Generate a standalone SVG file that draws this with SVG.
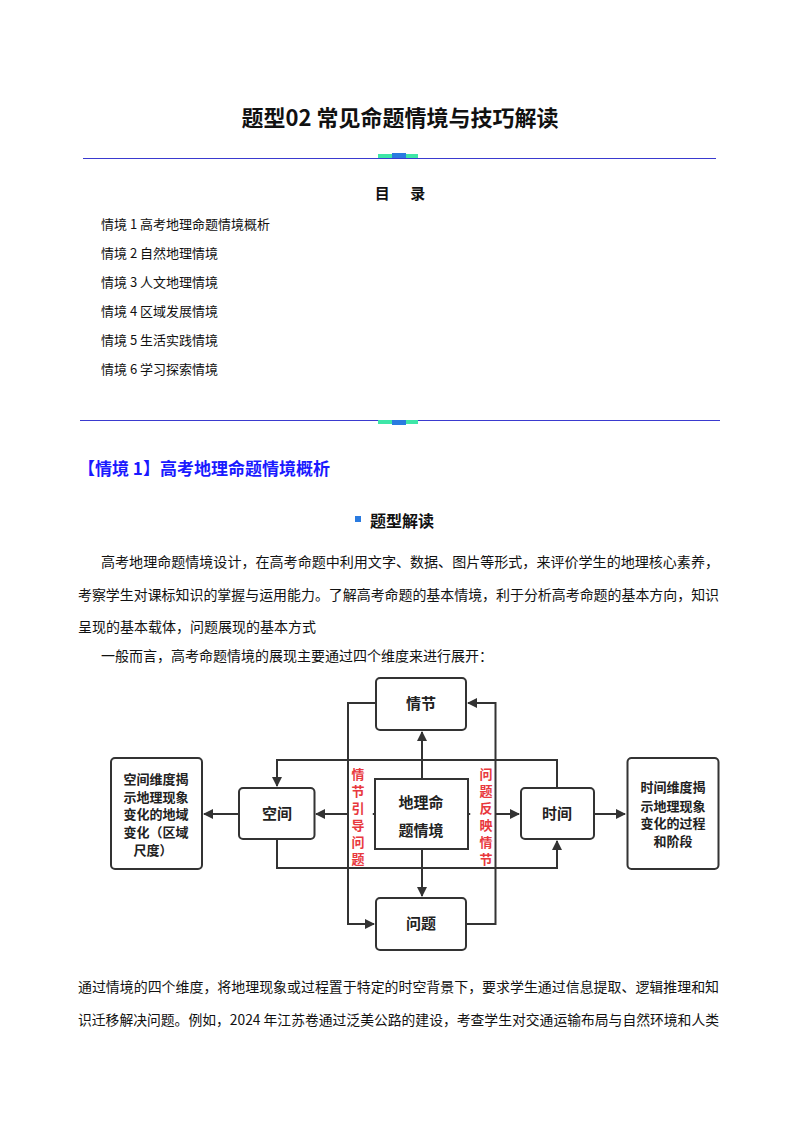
<svg xmlns="http://www.w3.org/2000/svg" width="800" height="1132" viewBox="0 0 800 1132">
<style>
text{font-family:"Noto Sans CJK SC","Liberation Sans",sans-serif;fill:#111}
.b{font-weight:bold}
.body{font-size:14px}
.toc{font-size:13px}
.node rect{fill:#fff;stroke:#333;stroke-width:2}
.nt{font-size:15px;font-weight:bold;text-anchor:middle;fill:#222}
.sm{font-size:13px}
.red text{font-size:13px;font-weight:bold;fill:#e8383d;text-anchor:middle}
.c{fill:none;stroke:#333;stroke-width:2}
</style>
<defs>
<marker id="a" viewBox="0 0 10 10" refX="9" refY="5" markerWidth="5" markerHeight="5" orient="auto"><path d="M0,0L10,5L0,10z" fill="#333"/></marker>
</defs>
<rect width="800" height="1132" fill="#fff"/>
<text x="400" y="126" class="b" font-size="22" text-anchor="middle">题型02  常见命题情境与技巧解读</text>
<line x1="83" y1="158.5" x2="716" y2="158.5" stroke="#3a3acf" stroke-width="1.2"/>
<rect x="378" y="154" width="40" height="4" fill="#3ee6a8"/><rect x="392" y="153" width="14" height="5" fill="#2a7be0"/>
<text x="400" y="199" class="b" font-size="15" text-anchor="middle" xml:space="preserve">目      录</text>
<g class="toc">
<text x="101" y="229">情境 1 高考地理命题情境概析</text>
<text x="101" y="258">情境 2 自然地理情境</text>
<text x="101" y="287">情境 3 人文地理情境</text>
<text x="101" y="316">情境 4 区域发展情境</text>
<text x="101" y="345">情境 5 生活实践情境</text>
<text x="101" y="374">情境 6 学习探索情境</text>
</g>
<line x1="80" y1="420.5" x2="720" y2="420.5" stroke="#3a3acf" stroke-width="1.2"/>
<rect x="378" y="420" width="40" height="4" fill="#3ee6a8"/><rect x="392" y="420" width="14" height="5" fill="#2a7be0"/>
<text x="78" y="475" class="b" font-size="17" style="fill:#1a1aff">【情境 1】高考地理命题情境概析</text>
<rect x="355" y="516" width="6" height="6" fill="#2a7be0"/>
<text x="370" y="527" class="b" font-size="16">题型解读</text>
<g class="body">
<text x="101" y="567" textLength="618" lengthAdjust="spacingAndGlyphs">高考地理命题情境设计，在高考命题中利用文字、数据、图片等形式，来评价学生的地理核心素养，</text>
<text x="78" y="600" textLength="641" lengthAdjust="spacingAndGlyphs">考察学生对课标知识的掌握与运用能力。了解高考命题的基本情境，利于分析高考命题的基本方向，知识</text>
<text x="78" y="632">呈现的基本载体，问题展现的基本方式</text>
<text x="101" y="661">一般而言，高考命题情境的展现主要通过四个维度来进行展开：</text>
<text x="78" y="992" textLength="641" lengthAdjust="spacingAndGlyphs">通过情境的四个维度，将地理现象或过程置于特定的时空背景下，要求学生通过信息提取、逻辑推理和知</text>
<text x="78" y="1025" textLength="641" lengthAdjust="spacingAndGlyphs">识迁移解决问题。例如，2024 年江苏卷通过泛美公路的建设，考查学生对交通运输布局与自然环境和人类</text>
</g>
<g id="connectors">
<path class="c" d="M376,703H348V924H374" marker-end="url(#a)"/>
<path class="c" d="M466,924H495.5V703H468" marker-end="url(#a)"/>
<path class="c" d="M557,788V760H277V786" marker-end="url(#a)"/>
<path class="c" d="M277,839V868H557V841" marker-end="url(#a)"/>
<path class="c" d="M422,779V732" marker-end="url(#a)"/>
<path class="c" d="M422,849V896" marker-end="url(#a)"/>
<path class="c" d="M348,814H316" marker-end="url(#a)"/>
<path class="c" d="M384,814H373" marker-end="url(#a)"/>
<path class="c" d="M459,814H470" marker-end="url(#a)"/>
<path class="c" d="M495.5,814H519" marker-end="url(#a)"/>
<path class="c" d="M239,814H204" marker-end="url(#a)"/>
<path class="c" d="M594,814H625" marker-end="url(#a)"/>
</g>
<g id="n-qingjie" class="node"><rect x="376" y="678" width="90" height="52" rx="4"/><text class="nt" x="421" y="709">情节</text></g>
<g id="n-wenti" class="node"><rect x="376" y="898" width="90" height="52" rx="4"/><text class="nt" x="421" y="929">问题</text></g>
<g id="n-kongjian" class="node"><rect x="239" y="788" width="75.5" height="51" rx="4"/><text class="nt" x="277" y="819">空间</text></g>
<g id="n-shijian" class="node"><rect x="521" y="788" width="73" height="51" rx="4"/><text class="nt" x="557" y="819">时间</text></g>
<g id="n-center" class="node"><rect x="375" y="779" width="93" height="70" rx="0"/><text class="nt" x="421" y="808" font-size="19">地理命</text><text class="nt" x="421" y="836" font-size="19">题情境</text></g>
<g id="n-left" class="node"><rect x="111" y="758" width="91" height="111" rx="4"/>
<text class="nt sm" x="156" y="784">空间维度揭</text><text class="nt sm" x="156" y="802">示地理现象</text><text class="nt sm" x="156" y="819">变化的地域</text><text class="nt sm" x="156" y="837">变化（区域</text><text class="nt sm" x="153" y="855">尺度）</text></g>
<g id="n-right" class="node"><rect x="627.5" y="758" width="91" height="111" rx="4"/>
<text class="nt sm" x="673" y="792">时间维度揭</text><text class="nt sm" x="673" y="811">示地理现象</text><text class="nt sm" x="673" y="828">变化的过程</text><text class="nt sm" x="673" y="846">和阶段</text></g>
<g id="lbl-left" class="red"><text x="358" y="779">情</text><text x="358" y="796">节</text><text x="358" y="813">引</text><text x="358" y="830">导</text><text x="358" y="847">问</text><text x="358" y="864">题</text></g>
<g id="lbl-right" class="red"><text x="486" y="779">问</text><text x="486" y="796">题</text><text x="486" y="813">反</text><text x="486" y="830">映</text><text x="486" y="847">情</text><text x="486" y="864">节</text></g>
</svg>
